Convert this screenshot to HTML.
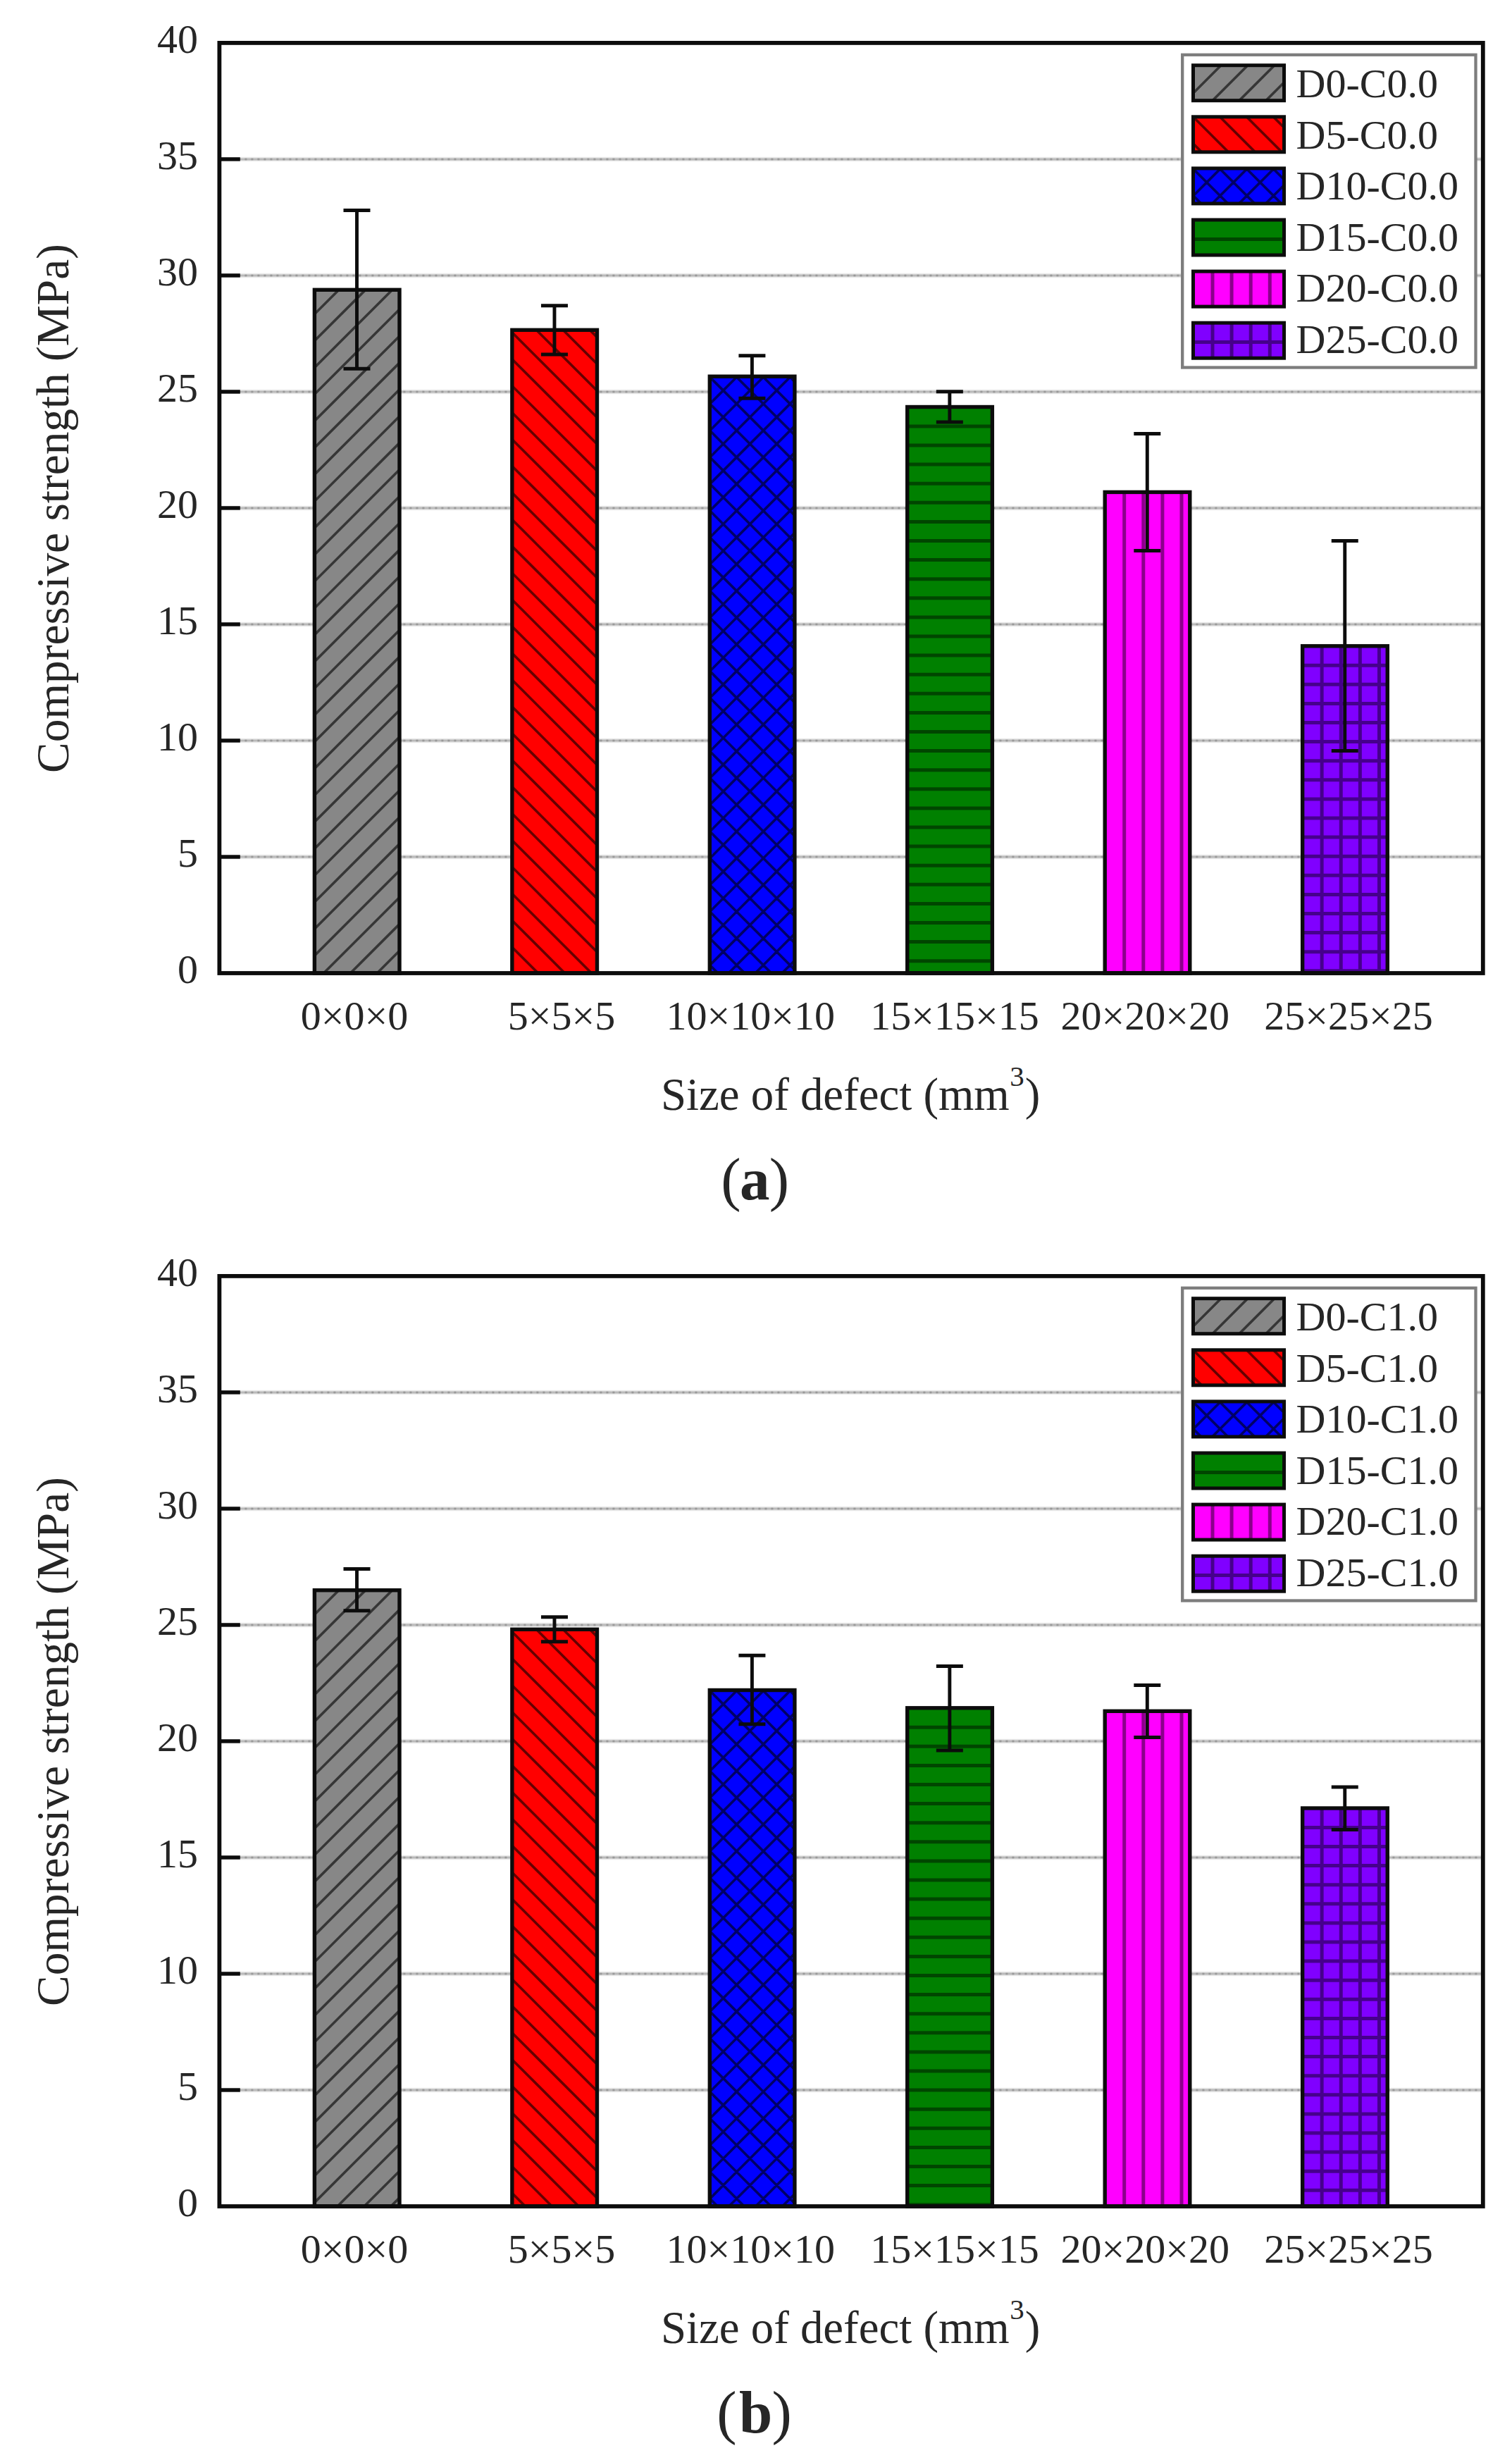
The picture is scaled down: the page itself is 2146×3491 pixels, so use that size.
<!DOCTYPE html>
<html lang="en">
<head>
<meta charset="utf-8">
<title>Compressive strength versus size of defect</title>
<style>
html,body{margin:0;padding:0;background:#fff;}
body{width:2146px;height:3491px;overflow:hidden;}
svg{display:block;}
svg text{font-family:"Liberation Serif",serif;fill:#262626;}
</style>
</head>
<body>
<svg width="2146" height="3491" viewBox="0 0 2146 3491">
<defs><clipPath id="c1"><rect x="446.4" y="411.3" width="120.6" height="969.7"/></clipPath><clipPath id="c2"><rect x="726.85" y="468.3" width="120.6" height="912.7"/></clipPath><clipPath id="c3"><rect x="1007.3" y="534.2" width="120.6" height="846.8"/></clipPath><clipPath id="c4"><rect x="1287.75" y="577.5" width="120.6" height="803.5"/></clipPath><clipPath id="c5"><rect x="1568.2" y="698.4" width="120.6" height="682.6"/></clipPath><clipPath id="c6"><rect x="1848.65" y="916.8" width="120.6" height="464.2"/></clipPath><clipPath id="c7"><rect x="1693.5" y="92.7" width="129" height="50"/></clipPath><clipPath id="c8"><rect x="1693.5" y="165.8" width="129" height="50"/></clipPath><clipPath id="c9"><rect x="1693.5" y="238.9" width="129" height="50"/></clipPath><clipPath id="c10"><rect x="1693.5" y="312" width="129" height="50"/></clipPath><clipPath id="c11"><rect x="1693.5" y="385.1" width="129" height="50"/></clipPath><clipPath id="c12"><rect x="1693.5" y="458.2" width="129" height="50"/></clipPath><clipPath id="c13"><rect x="446.4" y="506.7" width="120.6" height="874.3"/></clipPath><clipPath id="c14"><rect x="726.85" y="562.3" width="120.6" height="818.7"/></clipPath><clipPath id="c15"><rect x="1007.3" y="648.5" width="120.6" height="732.5"/></clipPath><clipPath id="c16"><rect x="1287.75" y="673.8" width="120.6" height="707.2"/></clipPath><clipPath id="c17"><rect x="1568.2" y="678.3" width="120.6" height="702.7"/></clipPath><clipPath id="c18"><rect x="1848.65" y="816" width="120.6" height="565"/></clipPath><clipPath id="c19"><rect x="1693.5" y="92.7" width="129" height="50"/></clipPath><clipPath id="c20"><rect x="1693.5" y="165.8" width="129" height="50"/></clipPath><clipPath id="c21"><rect x="1693.5" y="238.9" width="129" height="50"/></clipPath><clipPath id="c22"><rect x="1693.5" y="312" width="129" height="50"/></clipPath><clipPath id="c23"><rect x="1693.5" y="385.1" width="129" height="50"/></clipPath><clipPath id="c24"><rect x="1693.5" y="458.2" width="129" height="50"/></clipPath></defs>
<rect width="2146" height="3491" fill="#fff"/>
<g><path d="M311.4 1215.99H2104.8" stroke="#000" stroke-opacity="0.09" stroke-width="6.4" fill="none"/><path d="M311.4 1215.99H2104.8" stroke="#000" stroke-opacity="0.2" stroke-width="3" fill="none"/><path d="M311.4 1215.99H2104.8" stroke="#000" stroke-opacity="0.17" stroke-width="3" stroke-dasharray="3 6" fill="none"/><path d="M311.4 1050.97H2104.8" stroke="#000" stroke-opacity="0.09" stroke-width="6.4" fill="none"/><path d="M311.4 1050.97H2104.8" stroke="#000" stroke-opacity="0.2" stroke-width="3" fill="none"/><path d="M311.4 1050.97H2104.8" stroke="#000" stroke-opacity="0.17" stroke-width="3" stroke-dasharray="3 6" fill="none"/><path d="M311.4 885.96H2104.8" stroke="#000" stroke-opacity="0.09" stroke-width="6.4" fill="none"/><path d="M311.4 885.96H2104.8" stroke="#000" stroke-opacity="0.2" stroke-width="3" fill="none"/><path d="M311.4 885.96H2104.8" stroke="#000" stroke-opacity="0.17" stroke-width="3" stroke-dasharray="3 6" fill="none"/><path d="M311.4 720.95H2104.8" stroke="#000" stroke-opacity="0.09" stroke-width="6.4" fill="none"/><path d="M311.4 720.95H2104.8" stroke="#000" stroke-opacity="0.2" stroke-width="3" fill="none"/><path d="M311.4 720.95H2104.8" stroke="#000" stroke-opacity="0.17" stroke-width="3" stroke-dasharray="3 6" fill="none"/><path d="M311.4 555.94H2104.8" stroke="#000" stroke-opacity="0.09" stroke-width="6.4" fill="none"/><path d="M311.4 555.94H2104.8" stroke="#000" stroke-opacity="0.2" stroke-width="3" fill="none"/><path d="M311.4 555.94H2104.8" stroke="#000" stroke-opacity="0.17" stroke-width="3" stroke-dasharray="3 6" fill="none"/><path d="M311.4 390.93H2104.8" stroke="#000" stroke-opacity="0.09" stroke-width="6.4" fill="none"/><path d="M311.4 390.93H2104.8" stroke="#000" stroke-opacity="0.2" stroke-width="3" fill="none"/><path d="M311.4 390.93H2104.8" stroke="#000" stroke-opacity="0.17" stroke-width="3" stroke-dasharray="3 6" fill="none"/><path d="M311.4 225.91H2104.8" stroke="#000" stroke-opacity="0.09" stroke-width="6.4" fill="none"/><path d="M311.4 225.91H2104.8" stroke="#000" stroke-opacity="0.2" stroke-width="3" fill="none"/><path d="M311.4 225.91H2104.8" stroke="#000" stroke-opacity="0.17" stroke-width="3" stroke-dasharray="3 6" fill="none"/><rect x="446.4" y="411.3" width="120.6" height="969.7" fill="#878787"/><path clip-path="url(#c1)" d="M446.4 369.94L567 249.34M446.4 407.87L567 287.27M446.4 445.8L567 325.2M446.4 483.73L567 363.13M446.4 521.66L567 401.06M446.4 559.59L567 438.99M446.4 597.52L567 476.92M446.4 635.45L567 514.85M446.4 673.38L567 552.78M446.4 711.31L567 590.71M446.4 749.24L567 628.64M446.4 787.17L567 666.57M446.4 825.1L567 704.5M446.4 863.03L567 742.43M446.4 900.96L567 780.36M446.4 938.89L567 818.29M446.4 976.82L567 856.22M446.4 1014.75L567 894.15M446.4 1052.68L567 932.08M446.4 1090.61L567 970.01M446.4 1128.54L567 1007.94M446.4 1166.47L567 1045.87M446.4 1204.4L567 1083.8M446.4 1242.33L567 1121.73M446.4 1280.26L567 1159.66M446.4 1318.19L567 1197.59M446.4 1356.12L567 1235.52M446.4 1394.05L567 1273.45M446.4 1431.98L567 1311.38M446.4 1469.91L567 1349.31M446.4 1507.84L567 1387.24" stroke="#000" stroke-opacity="0.6" stroke-width="3.6" fill="none"/><rect x="446.4" y="411.3" width="120.6" height="969.7" fill="none" stroke="#0c0c0c" stroke-width="5.4"/><rect x="726.85" y="468.3" width="120.6" height="912.7" fill="#ff0000"/><path clip-path="url(#c2)" d="M726.85 282.15L847.45 402.75M726.85 320.08L847.45 440.68M726.85 358.01L847.45 478.61M726.85 395.94L847.45 516.54M726.85 433.87L847.45 554.47M726.85 471.8L847.45 592.4M726.85 509.73L847.45 630.33M726.85 547.66L847.45 668.26M726.85 585.59L847.45 706.19M726.85 623.52L847.45 744.12M726.85 661.45L847.45 782.05M726.85 699.38L847.45 819.98M726.85 737.31L847.45 857.91M726.85 775.24L847.45 895.84M726.85 813.17L847.45 933.77M726.85 851.1L847.45 971.7M726.85 889.03L847.45 1009.63M726.85 926.96L847.45 1047.56M726.85 964.89L847.45 1085.49M726.85 1002.82L847.45 1123.42M726.85 1040.75L847.45 1161.35M726.85 1078.68L847.45 1199.28M726.85 1116.61L847.45 1237.21M726.85 1154.54L847.45 1275.14M726.85 1192.47L847.45 1313.07M726.85 1230.4L847.45 1351M726.85 1268.33L847.45 1388.93M726.85 1306.26L847.45 1426.86M726.85 1344.19L847.45 1464.79M726.85 1382.12L847.45 1502.72" stroke="#000" stroke-opacity="0.6" stroke-width="3.6" fill="none"/><rect x="726.85" y="468.3" width="120.6" height="912.7" fill="none" stroke="#0c0c0c" stroke-width="5.4"/><rect x="1007.3" y="534.2" width="120.6" height="846.8" fill="#0000ff"/><path clip-path="url(#c3)" d="M1007.3 459.54L1127.9 338.94M1007.3 497.47L1127.9 376.87M1007.3 535.4L1127.9 414.8M1007.3 573.33L1127.9 452.73M1007.3 611.26L1127.9 490.66M1007.3 649.19L1127.9 528.59M1007.3 687.12L1127.9 566.52M1007.3 725.05L1127.9 604.45M1007.3 762.98L1127.9 642.38M1007.3 800.91L1127.9 680.31M1007.3 838.84L1127.9 718.24M1007.3 876.77L1127.9 756.17M1007.3 914.7L1127.9 794.1M1007.3 952.63L1127.9 832.03M1007.3 990.56L1127.9 869.96M1007.3 1028.49L1127.9 907.89M1007.3 1066.42L1127.9 945.82M1007.3 1104.35L1127.9 983.75M1007.3 1142.28L1127.9 1021.68M1007.3 1180.21L1127.9 1059.61M1007.3 1218.14L1127.9 1097.54M1007.3 1256.07L1127.9 1135.47M1007.3 1294L1127.9 1173.4M1007.3 1331.93L1127.9 1211.33M1007.3 1369.86L1127.9 1249.26M1007.3 1407.79L1127.9 1287.19M1007.3 1445.72L1127.9 1325.12M1007.3 1483.65L1127.9 1363.05M1007.3 1521.58L1127.9 1400.98M1007.3 345.25L1127.9 465.85M1007.3 383.18L1127.9 503.78M1007.3 421.11L1127.9 541.71M1007.3 459.04L1127.9 579.64M1007.3 496.97L1127.9 617.57M1007.3 534.9L1127.9 655.5M1007.3 572.83L1127.9 693.43M1007.3 610.76L1127.9 731.36M1007.3 648.69L1127.9 769.29M1007.3 686.62L1127.9 807.22M1007.3 724.55L1127.9 845.15M1007.3 762.48L1127.9 883.08M1007.3 800.41L1127.9 921.01M1007.3 838.34L1127.9 958.94M1007.3 876.27L1127.9 996.87M1007.3 914.2L1127.9 1034.8M1007.3 952.13L1127.9 1072.73M1007.3 990.06L1127.9 1110.66M1007.3 1027.99L1127.9 1148.59M1007.3 1065.92L1127.9 1186.52M1007.3 1103.85L1127.9 1224.45M1007.3 1141.78L1127.9 1262.38M1007.3 1179.71L1127.9 1300.31M1007.3 1217.64L1127.9 1338.24M1007.3 1255.57L1127.9 1376.17M1007.3 1293.5L1127.9 1414.1M1007.3 1331.43L1127.9 1452.03M1007.3 1369.36L1127.9 1489.96M1007.3 1407.29L1127.9 1527.89" stroke="#000" stroke-opacity="0.6" stroke-width="3.6" fill="none"/><rect x="1007.3" y="534.2" width="120.6" height="846.8" fill="none" stroke="#0c0c0c" stroke-width="5.4"/><rect x="1287.75" y="577.5" width="120.6" height="803.5" fill="#008000"/><path clip-path="url(#c4)" d="M1287.75 604.9H1408.35M1287.75 632H1408.35M1287.75 659.1H1408.35M1287.75 686.2H1408.35M1287.75 713.3H1408.35M1287.75 740.4H1408.35M1287.75 767.5H1408.35M1287.75 794.6H1408.35M1287.75 821.7H1408.35M1287.75 848.8H1408.35M1287.75 875.9H1408.35M1287.75 903H1408.35M1287.75 930.1H1408.35M1287.75 957.2H1408.35M1287.75 984.3H1408.35M1287.75 1011.4H1408.35M1287.75 1038.5H1408.35M1287.75 1065.6H1408.35M1287.75 1092.7H1408.35M1287.75 1119.8H1408.35M1287.75 1146.9H1408.35M1287.75 1174H1408.35M1287.75 1201.1H1408.35M1287.75 1228.2H1408.35M1287.75 1255.3H1408.35M1287.75 1282.4H1408.35M1287.75 1309.5H1408.35M1287.75 1336.6H1408.35M1287.75 1363.7H1408.35" stroke="#000" stroke-opacity="0.45" stroke-width="5.0" fill="none"/><rect x="1287.75" y="577.5" width="120.6" height="803.5" fill="none" stroke="#0c0c0c" stroke-width="5.4"/><rect x="1568.2" y="698.4" width="120.6" height="682.6" fill="#ff00ff"/><path clip-path="url(#c5)" d="M1595.7 698.4V1381M1622.8 698.4V1381M1649.9 698.4V1381M1677 698.4V1381" stroke="#000" stroke-opacity="0.45" stroke-width="5.0" fill="none"/><rect x="1568.2" y="698.4" width="120.6" height="682.6" fill="none" stroke="#0c0c0c" stroke-width="5.4"/><rect x="1848.65" y="916.8" width="120.6" height="464.2" fill="#8000ff"/><path clip-path="url(#c6)" d="M1848.65 944.2H1969.25M1848.65 971.3H1969.25M1848.65 998.4H1969.25M1848.65 1025.5H1969.25M1848.65 1052.6H1969.25M1848.65 1079.7H1969.25M1848.65 1106.8H1969.25M1848.65 1133.9H1969.25M1848.65 1161H1969.25M1848.65 1188.1H1969.25M1848.65 1215.2H1969.25M1848.65 1242.3H1969.25M1848.65 1269.4H1969.25M1848.65 1296.5H1969.25M1848.65 1323.6H1969.25M1848.65 1350.7H1969.25M1848.65 1377.8H1969.25M1876.15 916.8V1381M1903.25 916.8V1381M1930.35 916.8V1381M1957.45 916.8V1381" stroke="#000" stroke-opacity="0.45" stroke-width="5.0" fill="none"/><rect x="1848.65" y="916.8" width="120.6" height="464.2" fill="none" stroke="#0c0c0c" stroke-width="5.4"/><path d="M506.5 298.6V523.3" stroke="#0c0c0c" stroke-width="4.9" fill="none"/><path d="M487.5 298.6H525.5M487.5 523.3H525.5" stroke="#0c0c0c" stroke-width="5.0" fill="none"/><path d="M786.95 433.7V503.1" stroke="#0c0c0c" stroke-width="4.9" fill="none"/><path d="M767.95 433.7H805.95M767.95 503.1H805.95" stroke="#0c0c0c" stroke-width="5.0" fill="none"/><path d="M1067.4 504.7V565.3" stroke="#0c0c0c" stroke-width="4.9" fill="none"/><path d="M1048.4 504.7H1086.4M1048.4 565.3H1086.4" stroke="#0c0c0c" stroke-width="5.0" fill="none"/><path d="M1347.85 555.7V599" stroke="#0c0c0c" stroke-width="4.9" fill="none"/><path d="M1328.85 555.7H1366.85M1328.85 599H1366.85" stroke="#0c0c0c" stroke-width="5.0" fill="none"/><path d="M1628.3 615.4V781.4" stroke="#0c0c0c" stroke-width="4.9" fill="none"/><path d="M1609.3 615.4H1647.3M1609.3 781.4H1647.3" stroke="#0c0c0c" stroke-width="5.0" fill="none"/><path d="M1908.75 767.4V1065.5" stroke="#0c0c0c" stroke-width="4.9" fill="none"/><path d="M1889.75 767.4H1927.75M1889.75 1065.5H1927.75" stroke="#0c0c0c" stroke-width="5.0" fill="none"/><rect x="1678.2" y="77.8" width="416.3" height="443.7" fill="#fff" stroke="#7d7d7d" stroke-width="4.3"/><rect x="1693.5" y="92.7" width="129" height="50" fill="#878787"/><path clip-path="url(#c7)" d="M1693.5 18.44L1822.5 -110.56M1693.5 56.37L1822.5 -72.63M1693.5 94.3L1822.5 -34.7M1693.5 132.23L1822.5 3.23M1693.5 170.16L1822.5 41.16M1693.5 208.09L1822.5 79.09M1693.5 246.02L1822.5 117.02M1693.5 283.95L1822.5 154.95" stroke="#000" stroke-opacity="0.6" stroke-width="3.6" fill="none"/><rect x="1693.5" y="92.7" width="129" height="50" fill="none" stroke="#0c0c0c" stroke-width="5"/><text x="1839.5" y="138.2" font-size="58">D0-C0.0</text><rect x="1693.5" y="165.8" width="129" height="50" fill="#ff0000"/><path clip-path="url(#c8)" d="M1693.5 -23.85L1822.5 105.15M1693.5 14.08L1822.5 143.08M1693.5 52.01L1822.5 181.01M1693.5 89.94L1822.5 218.94M1693.5 127.87L1822.5 256.87M1693.5 165.8L1822.5 294.8M1693.5 203.73L1822.5 332.73M1693.5 241.66L1822.5 370.66" stroke="#000" stroke-opacity="0.6" stroke-width="3.6" fill="none"/><rect x="1693.5" y="165.8" width="129" height="50" fill="none" stroke="#0c0c0c" stroke-width="5"/><text x="1839.5" y="210.7" font-size="58">D5-C0.0</text><rect x="1693.5" y="238.9" width="129" height="50" fill="#0000ff"/><path clip-path="url(#c9)" d="M1693.5 164.24L1822.5 35.24M1693.5 202.17L1822.5 73.17M1693.5 240.1L1822.5 111.1M1693.5 278.03L1822.5 149.03M1693.5 315.96L1822.5 186.96M1693.5 353.89L1822.5 224.89M1693.5 391.82L1822.5 262.82M1693.5 429.75L1822.5 300.75M1693.5 49.95L1822.5 178.95M1693.5 87.88L1822.5 216.88M1693.5 125.81L1822.5 254.81M1693.5 163.74L1822.5 292.74M1693.5 201.67L1822.5 330.67M1693.5 239.6L1822.5 368.6M1693.5 277.53L1822.5 406.53M1693.5 315.46L1822.5 444.46" stroke="#000" stroke-opacity="0.6" stroke-width="3.6" fill="none"/><rect x="1693.5" y="238.9" width="129" height="50" fill="none" stroke="#0c0c0c" stroke-width="5"/><text x="1839.5" y="283.2" font-size="58">D10-C0.0</text><rect x="1693.5" y="312" width="129" height="50" fill="#008000"/><path clip-path="url(#c10)" d="M1693.5 339.4H1822.5" stroke="#000" stroke-opacity="0.45" stroke-width="5.0" fill="none"/><rect x="1693.5" y="312" width="129" height="50" fill="none" stroke="#0c0c0c" stroke-width="5"/><text x="1839.5" y="355.7" font-size="58">D15-C0.0</text><rect x="1693.5" y="385.1" width="129" height="50" fill="#ff00ff"/><path clip-path="url(#c11)" d="M1721 385.1V435.1M1748.1 385.1V435.1M1775.2 385.1V435.1M1802.3 385.1V435.1" stroke="#000" stroke-opacity="0.45" stroke-width="5.0" fill="none"/><rect x="1693.5" y="385.1" width="129" height="50" fill="none" stroke="#0c0c0c" stroke-width="5"/><text x="1839.5" y="428.2" font-size="58">D20-C0.0</text><rect x="1693.5" y="458.2" width="129" height="50" fill="#8000ff"/><path clip-path="url(#c12)" d="M1693.5 485.6H1822.5M1721 458.2V508.2M1748.1 458.2V508.2M1775.2 458.2V508.2M1802.3 458.2V508.2" stroke="#000" stroke-opacity="0.45" stroke-width="5.0" fill="none"/><rect x="1693.5" y="458.2" width="129" height="50" fill="none" stroke="#0c0c0c" stroke-width="5"/><text x="1839.5" y="500.7" font-size="58">D25-C0.0</text><line x1="311.4" y1="1215.99" x2="340.8" y2="1215.99" stroke="#0c0c0c" stroke-width="5.4"/><line x1="311.4" y1="1050.97" x2="340.8" y2="1050.97" stroke="#0c0c0c" stroke-width="5.4"/><line x1="311.4" y1="885.96" x2="340.8" y2="885.96" stroke="#0c0c0c" stroke-width="5.4"/><line x1="311.4" y1="720.95" x2="340.8" y2="720.95" stroke="#0c0c0c" stroke-width="5.4"/><line x1="311.4" y1="555.94" x2="340.8" y2="555.94" stroke="#0c0c0c" stroke-width="5.4"/><line x1="311.4" y1="390.93" x2="340.8" y2="390.93" stroke="#0c0c0c" stroke-width="5.4"/><line x1="311.4" y1="225.91" x2="340.8" y2="225.91" stroke="#0c0c0c" stroke-width="5.4"/><rect x="311.4" y="60.9" width="1793.4" height="1320.1" fill="none" stroke="#0c0c0c" stroke-width="5.8"/><text x="281" y="1394.6" font-size="58" text-anchor="end">0</text><text x="281" y="1229.59" font-size="58" text-anchor="end">5</text><text x="281" y="1064.57" font-size="58" text-anchor="end">10</text><text x="281" y="899.56" font-size="58" text-anchor="end">15</text><text x="281" y="734.55" font-size="58" text-anchor="end">20</text><text x="281" y="569.54" font-size="58" text-anchor="end">25</text><text x="281" y="404.53" font-size="58" text-anchor="end">30</text><text x="281" y="239.51" font-size="58" text-anchor="end">35</text><text x="281" y="74.5" font-size="58" text-anchor="end">40</text><text x="503" y="1461" font-size="58" text-anchor="middle">0×0×0</text><text x="797" y="1461" font-size="58" text-anchor="middle">5×5×5</text><text x="1065.3" y="1461" font-size="58" text-anchor="middle">10×10×10</text><text x="1355" y="1461" font-size="58" text-anchor="middle">15×15×15</text><text x="1625.2" y="1461" font-size="58" text-anchor="middle">20×20×20</text><text x="1914" y="1461" font-size="58" text-anchor="middle">25×25×25</text><text x="938" y="1574.5" font-size="64.8">Size of defect (mm<tspan font-size="41" dy="-33.5" dx="0.5">3</tspan><tspan dy="33.5" dx="1">)</tspan></text><text transform="translate(97 721.5) rotate(-90)" font-size="65.3" text-anchor="middle">Compressive strength (MPa)</text><text y="1702" font-size="85" text-anchor="middle" font-weight="bold"><tspan x="1037.5" font-weight="normal">(</tspan><tspan x="1071.2">a</tspan><tspan x="1106" font-weight="normal">)</tspan></text></g>
<g transform="translate(0 1750)"><path d="M311.4 1215.99H2104.8" stroke="#000" stroke-opacity="0.09" stroke-width="6.4" fill="none"/><path d="M311.4 1215.99H2104.8" stroke="#000" stroke-opacity="0.2" stroke-width="3" fill="none"/><path d="M311.4 1215.99H2104.8" stroke="#000" stroke-opacity="0.17" stroke-width="3" stroke-dasharray="3 6" fill="none"/><path d="M311.4 1050.97H2104.8" stroke="#000" stroke-opacity="0.09" stroke-width="6.4" fill="none"/><path d="M311.4 1050.97H2104.8" stroke="#000" stroke-opacity="0.2" stroke-width="3" fill="none"/><path d="M311.4 1050.97H2104.8" stroke="#000" stroke-opacity="0.17" stroke-width="3" stroke-dasharray="3 6" fill="none"/><path d="M311.4 885.96H2104.8" stroke="#000" stroke-opacity="0.09" stroke-width="6.4" fill="none"/><path d="M311.4 885.96H2104.8" stroke="#000" stroke-opacity="0.2" stroke-width="3" fill="none"/><path d="M311.4 885.96H2104.8" stroke="#000" stroke-opacity="0.17" stroke-width="3" stroke-dasharray="3 6" fill="none"/><path d="M311.4 720.95H2104.8" stroke="#000" stroke-opacity="0.09" stroke-width="6.4" fill="none"/><path d="M311.4 720.95H2104.8" stroke="#000" stroke-opacity="0.2" stroke-width="3" fill="none"/><path d="M311.4 720.95H2104.8" stroke="#000" stroke-opacity="0.17" stroke-width="3" stroke-dasharray="3 6" fill="none"/><path d="M311.4 555.94H2104.8" stroke="#000" stroke-opacity="0.09" stroke-width="6.4" fill="none"/><path d="M311.4 555.94H2104.8" stroke="#000" stroke-opacity="0.2" stroke-width="3" fill="none"/><path d="M311.4 555.94H2104.8" stroke="#000" stroke-opacity="0.17" stroke-width="3" stroke-dasharray="3 6" fill="none"/><path d="M311.4 390.93H2104.8" stroke="#000" stroke-opacity="0.09" stroke-width="6.4" fill="none"/><path d="M311.4 390.93H2104.8" stroke="#000" stroke-opacity="0.2" stroke-width="3" fill="none"/><path d="M311.4 390.93H2104.8" stroke="#000" stroke-opacity="0.17" stroke-width="3" stroke-dasharray="3 6" fill="none"/><path d="M311.4 225.91H2104.8" stroke="#000" stroke-opacity="0.09" stroke-width="6.4" fill="none"/><path d="M311.4 225.91H2104.8" stroke="#000" stroke-opacity="0.2" stroke-width="3" fill="none"/><path d="M311.4 225.91H2104.8" stroke="#000" stroke-opacity="0.17" stroke-width="3" stroke-dasharray="3 6" fill="none"/><rect x="446.4" y="506.7" width="120.6" height="874.3" fill="#878787"/><path clip-path="url(#c13)" d="M446.4 465.34L567 344.74M446.4 503.27L567 382.67M446.4 541.2L567 420.6M446.4 579.13L567 458.53M446.4 617.06L567 496.46M446.4 654.99L567 534.39M446.4 692.92L567 572.32M446.4 730.85L567 610.25M446.4 768.78L567 648.18M446.4 806.71L567 686.11M446.4 844.64L567 724.04M446.4 882.57L567 761.97M446.4 920.5L567 799.9M446.4 958.43L567 837.83M446.4 996.36L567 875.76M446.4 1034.29L567 913.69M446.4 1072.22L567 951.62M446.4 1110.15L567 989.55M446.4 1148.08L567 1027.48M446.4 1186.01L567 1065.41M446.4 1223.94L567 1103.34M446.4 1261.87L567 1141.27M446.4 1299.8L567 1179.2M446.4 1337.73L567 1217.13M446.4 1375.66L567 1255.06M446.4 1413.59L567 1292.99M446.4 1451.52L567 1330.92M446.4 1489.45L567 1368.85M446.4 1527.38L567 1406.78" stroke="#000" stroke-opacity="0.6" stroke-width="3.6" fill="none"/><rect x="446.4" y="506.7" width="120.6" height="874.3" fill="none" stroke="#0c0c0c" stroke-width="5.4"/><rect x="726.85" y="562.3" width="120.6" height="818.7" fill="#ff0000"/><path clip-path="url(#c14)" d="M726.85 376.15L847.45 496.75M726.85 414.08L847.45 534.68M726.85 452.01L847.45 572.61M726.85 489.94L847.45 610.54M726.85 527.87L847.45 648.47M726.85 565.8L847.45 686.4M726.85 603.73L847.45 724.33M726.85 641.66L847.45 762.26M726.85 679.59L847.45 800.19M726.85 717.52L847.45 838.12M726.85 755.45L847.45 876.05M726.85 793.38L847.45 913.98M726.85 831.31L847.45 951.91M726.85 869.24L847.45 989.84M726.85 907.17L847.45 1027.77M726.85 945.1L847.45 1065.7M726.85 983.03L847.45 1103.63M726.85 1020.96L847.45 1141.56M726.85 1058.89L847.45 1179.49M726.85 1096.82L847.45 1217.42M726.85 1134.75L847.45 1255.35M726.85 1172.68L847.45 1293.28M726.85 1210.61L847.45 1331.21M726.85 1248.54L847.45 1369.14M726.85 1286.47L847.45 1407.07M726.85 1324.4L847.45 1445M726.85 1362.33L847.45 1482.93M726.85 1400.26L847.45 1520.86" stroke="#000" stroke-opacity="0.6" stroke-width="3.6" fill="none"/><rect x="726.85" y="562.3" width="120.6" height="818.7" fill="none" stroke="#0c0c0c" stroke-width="5.4"/><rect x="1007.3" y="648.5" width="120.6" height="732.5" fill="#0000ff"/><path clip-path="url(#c15)" d="M1007.3 573.84L1127.9 453.24M1007.3 611.77L1127.9 491.17M1007.3 649.7L1127.9 529.1M1007.3 687.63L1127.9 567.03M1007.3 725.56L1127.9 604.96M1007.3 763.49L1127.9 642.89M1007.3 801.42L1127.9 680.82M1007.3 839.35L1127.9 718.75M1007.3 877.28L1127.9 756.68M1007.3 915.21L1127.9 794.61M1007.3 953.14L1127.9 832.54M1007.3 991.07L1127.9 870.47M1007.3 1029L1127.9 908.4M1007.3 1066.93L1127.9 946.33M1007.3 1104.86L1127.9 984.26M1007.3 1142.79L1127.9 1022.19M1007.3 1180.72L1127.9 1060.12M1007.3 1218.65L1127.9 1098.05M1007.3 1256.58L1127.9 1135.98M1007.3 1294.51L1127.9 1173.91M1007.3 1332.44L1127.9 1211.84M1007.3 1370.37L1127.9 1249.77M1007.3 1408.3L1127.9 1287.7M1007.3 1446.23L1127.9 1325.63M1007.3 1484.16L1127.9 1363.56M1007.3 1522.09L1127.9 1401.49M1007.3 459.55L1127.9 580.15M1007.3 497.48L1127.9 618.08M1007.3 535.41L1127.9 656.01M1007.3 573.34L1127.9 693.94M1007.3 611.27L1127.9 731.87M1007.3 649.2L1127.9 769.8M1007.3 687.13L1127.9 807.73M1007.3 725.06L1127.9 845.66M1007.3 762.99L1127.9 883.59M1007.3 800.92L1127.9 921.52M1007.3 838.85L1127.9 959.45M1007.3 876.78L1127.9 997.38M1007.3 914.71L1127.9 1035.31M1007.3 952.64L1127.9 1073.24M1007.3 990.57L1127.9 1111.17M1007.3 1028.5L1127.9 1149.1M1007.3 1066.43L1127.9 1187.03M1007.3 1104.36L1127.9 1224.96M1007.3 1142.29L1127.9 1262.89M1007.3 1180.22L1127.9 1300.82M1007.3 1218.15L1127.9 1338.75M1007.3 1256.08L1127.9 1376.68M1007.3 1294.01L1127.9 1414.61M1007.3 1331.94L1127.9 1452.54M1007.3 1369.87L1127.9 1490.47M1007.3 1407.8L1127.9 1528.4" stroke="#000" stroke-opacity="0.6" stroke-width="3.6" fill="none"/><rect x="1007.3" y="648.5" width="120.6" height="732.5" fill="none" stroke="#0c0c0c" stroke-width="5.4"/><rect x="1287.75" y="673.8" width="120.6" height="707.2" fill="#008000"/><path clip-path="url(#c16)" d="M1287.75 701.2H1408.35M1287.75 728.3H1408.35M1287.75 755.4H1408.35M1287.75 782.5H1408.35M1287.75 809.6H1408.35M1287.75 836.7H1408.35M1287.75 863.8H1408.35M1287.75 890.9H1408.35M1287.75 918H1408.35M1287.75 945.1H1408.35M1287.75 972.2H1408.35M1287.75 999.3H1408.35M1287.75 1026.4H1408.35M1287.75 1053.5H1408.35M1287.75 1080.6H1408.35M1287.75 1107.7H1408.35M1287.75 1134.8H1408.35M1287.75 1161.9H1408.35M1287.75 1189H1408.35M1287.75 1216.1H1408.35M1287.75 1243.2H1408.35M1287.75 1270.3H1408.35M1287.75 1297.4H1408.35M1287.75 1324.5H1408.35M1287.75 1351.6H1408.35M1287.75 1378.7H1408.35" stroke="#000" stroke-opacity="0.45" stroke-width="5.0" fill="none"/><rect x="1287.75" y="673.8" width="120.6" height="707.2" fill="none" stroke="#0c0c0c" stroke-width="5.4"/><rect x="1568.2" y="678.3" width="120.6" height="702.7" fill="#ff00ff"/><path clip-path="url(#c17)" d="M1595.7 678.3V1381M1622.8 678.3V1381M1649.9 678.3V1381M1677 678.3V1381" stroke="#000" stroke-opacity="0.45" stroke-width="5.0" fill="none"/><rect x="1568.2" y="678.3" width="120.6" height="702.7" fill="none" stroke="#0c0c0c" stroke-width="5.4"/><rect x="1848.65" y="816" width="120.6" height="565" fill="#8000ff"/><path clip-path="url(#c18)" d="M1848.65 843.4H1969.25M1848.65 870.5H1969.25M1848.65 897.6H1969.25M1848.65 924.7H1969.25M1848.65 951.8H1969.25M1848.65 978.9H1969.25M1848.65 1006H1969.25M1848.65 1033.1H1969.25M1848.65 1060.2H1969.25M1848.65 1087.3H1969.25M1848.65 1114.4H1969.25M1848.65 1141.5H1969.25M1848.65 1168.6H1969.25M1848.65 1195.7H1969.25M1848.65 1222.8H1969.25M1848.65 1249.9H1969.25M1848.65 1277H1969.25M1848.65 1304.1H1969.25M1848.65 1331.2H1969.25M1848.65 1358.3H1969.25M1876.15 816V1381M1903.25 816V1381M1930.35 816V1381M1957.45 816V1381" stroke="#000" stroke-opacity="0.45" stroke-width="5.0" fill="none"/><rect x="1848.65" y="816" width="120.6" height="565" fill="none" stroke="#0c0c0c" stroke-width="5.4"/><path d="M506.5 476.6V535.8" stroke="#0c0c0c" stroke-width="4.9" fill="none"/><path d="M487.5 476.6H525.5M487.5 535.8H525.5" stroke="#0c0c0c" stroke-width="5.0" fill="none"/><path d="M786.95 544.8V579.7" stroke="#0c0c0c" stroke-width="4.9" fill="none"/><path d="M767.95 544.8H805.95M767.95 579.7H805.95" stroke="#0c0c0c" stroke-width="5.0" fill="none"/><path d="M1067.4 599.3V696.8" stroke="#0c0c0c" stroke-width="4.9" fill="none"/><path d="M1048.4 599.3H1086.4M1048.4 696.8H1086.4" stroke="#0c0c0c" stroke-width="5.0" fill="none"/><path d="M1347.85 614.4V734.1" stroke="#0c0c0c" stroke-width="4.9" fill="none"/><path d="M1328.85 614.4H1366.85M1328.85 734.1H1366.85" stroke="#0c0c0c" stroke-width="5.0" fill="none"/><path d="M1628.3 641.4V715.4" stroke="#0c0c0c" stroke-width="4.9" fill="none"/><path d="M1609.3 641.4H1647.3M1609.3 715.4H1647.3" stroke="#0c0c0c" stroke-width="5.0" fill="none"/><path d="M1908.75 785.9V846.5" stroke="#0c0c0c" stroke-width="4.9" fill="none"/><path d="M1889.75 785.9H1927.75M1889.75 846.5H1927.75" stroke="#0c0c0c" stroke-width="5.0" fill="none"/><rect x="1678.2" y="77.8" width="416.3" height="443.7" fill="#fff" stroke="#7d7d7d" stroke-width="4.3"/><rect x="1693.5" y="92.7" width="129" height="50" fill="#878787"/><path clip-path="url(#c19)" d="M1693.5 18.44L1822.5 -110.56M1693.5 56.37L1822.5 -72.63M1693.5 94.3L1822.5 -34.7M1693.5 132.23L1822.5 3.23M1693.5 170.16L1822.5 41.16M1693.5 208.09L1822.5 79.09M1693.5 246.02L1822.5 117.02M1693.5 283.95L1822.5 154.95" stroke="#000" stroke-opacity="0.6" stroke-width="3.6" fill="none"/><rect x="1693.5" y="92.7" width="129" height="50" fill="none" stroke="#0c0c0c" stroke-width="5"/><text x="1839.5" y="138.2" font-size="58">D0-C1.0</text><rect x="1693.5" y="165.8" width="129" height="50" fill="#ff0000"/><path clip-path="url(#c20)" d="M1693.5 -23.85L1822.5 105.15M1693.5 14.08L1822.5 143.08M1693.5 52.01L1822.5 181.01M1693.5 89.94L1822.5 218.94M1693.5 127.87L1822.5 256.87M1693.5 165.8L1822.5 294.8M1693.5 203.73L1822.5 332.73M1693.5 241.66L1822.5 370.66" stroke="#000" stroke-opacity="0.6" stroke-width="3.6" fill="none"/><rect x="1693.5" y="165.8" width="129" height="50" fill="none" stroke="#0c0c0c" stroke-width="5"/><text x="1839.5" y="210.7" font-size="58">D5-C1.0</text><rect x="1693.5" y="238.9" width="129" height="50" fill="#0000ff"/><path clip-path="url(#c21)" d="M1693.5 164.24L1822.5 35.24M1693.5 202.17L1822.5 73.17M1693.5 240.1L1822.5 111.1M1693.5 278.03L1822.5 149.03M1693.5 315.96L1822.5 186.96M1693.5 353.89L1822.5 224.89M1693.5 391.82L1822.5 262.82M1693.5 429.75L1822.5 300.75M1693.5 49.95L1822.5 178.95M1693.5 87.88L1822.5 216.88M1693.5 125.81L1822.5 254.81M1693.5 163.74L1822.5 292.74M1693.5 201.67L1822.5 330.67M1693.5 239.6L1822.5 368.6M1693.5 277.53L1822.5 406.53M1693.5 315.46L1822.5 444.46" stroke="#000" stroke-opacity="0.6" stroke-width="3.6" fill="none"/><rect x="1693.5" y="238.9" width="129" height="50" fill="none" stroke="#0c0c0c" stroke-width="5"/><text x="1839.5" y="283.2" font-size="58">D10-C1.0</text><rect x="1693.5" y="312" width="129" height="50" fill="#008000"/><path clip-path="url(#c22)" d="M1693.5 339.4H1822.5" stroke="#000" stroke-opacity="0.45" stroke-width="5.0" fill="none"/><rect x="1693.5" y="312" width="129" height="50" fill="none" stroke="#0c0c0c" stroke-width="5"/><text x="1839.5" y="355.7" font-size="58">D15-C1.0</text><rect x="1693.5" y="385.1" width="129" height="50" fill="#ff00ff"/><path clip-path="url(#c23)" d="M1721 385.1V435.1M1748.1 385.1V435.1M1775.2 385.1V435.1M1802.3 385.1V435.1" stroke="#000" stroke-opacity="0.45" stroke-width="5.0" fill="none"/><rect x="1693.5" y="385.1" width="129" height="50" fill="none" stroke="#0c0c0c" stroke-width="5"/><text x="1839.5" y="428.2" font-size="58">D20-C1.0</text><rect x="1693.5" y="458.2" width="129" height="50" fill="#8000ff"/><path clip-path="url(#c24)" d="M1693.5 485.6H1822.5M1721 458.2V508.2M1748.1 458.2V508.2M1775.2 458.2V508.2M1802.3 458.2V508.2" stroke="#000" stroke-opacity="0.45" stroke-width="5.0" fill="none"/><rect x="1693.5" y="458.2" width="129" height="50" fill="none" stroke="#0c0c0c" stroke-width="5"/><text x="1839.5" y="500.7" font-size="58">D25-C1.0</text><line x1="311.4" y1="1215.99" x2="340.8" y2="1215.99" stroke="#0c0c0c" stroke-width="5.4"/><line x1="311.4" y1="1050.97" x2="340.8" y2="1050.97" stroke="#0c0c0c" stroke-width="5.4"/><line x1="311.4" y1="885.96" x2="340.8" y2="885.96" stroke="#0c0c0c" stroke-width="5.4"/><line x1="311.4" y1="720.95" x2="340.8" y2="720.95" stroke="#0c0c0c" stroke-width="5.4"/><line x1="311.4" y1="555.94" x2="340.8" y2="555.94" stroke="#0c0c0c" stroke-width="5.4"/><line x1="311.4" y1="390.93" x2="340.8" y2="390.93" stroke="#0c0c0c" stroke-width="5.4"/><line x1="311.4" y1="225.91" x2="340.8" y2="225.91" stroke="#0c0c0c" stroke-width="5.4"/><rect x="311.4" y="60.9" width="1793.4" height="1320.1" fill="none" stroke="#0c0c0c" stroke-width="5.8"/><text x="281" y="1394.6" font-size="58" text-anchor="end">0</text><text x="281" y="1229.59" font-size="58" text-anchor="end">5</text><text x="281" y="1064.57" font-size="58" text-anchor="end">10</text><text x="281" y="899.56" font-size="58" text-anchor="end">15</text><text x="281" y="734.55" font-size="58" text-anchor="end">20</text><text x="281" y="569.54" font-size="58" text-anchor="end">25</text><text x="281" y="404.53" font-size="58" text-anchor="end">30</text><text x="281" y="239.51" font-size="58" text-anchor="end">35</text><text x="281" y="74.5" font-size="58" text-anchor="end">40</text><text x="503" y="1461" font-size="58" text-anchor="middle">0×0×0</text><text x="797" y="1461" font-size="58" text-anchor="middle">5×5×5</text><text x="1065.3" y="1461" font-size="58" text-anchor="middle">10×10×10</text><text x="1355" y="1461" font-size="58" text-anchor="middle">15×15×15</text><text x="1625.2" y="1461" font-size="58" text-anchor="middle">20×20×20</text><text x="1914" y="1461" font-size="58" text-anchor="middle">25×25×25</text><text x="938" y="1574.5" font-size="64.8">Size of defect (mm<tspan font-size="41" dy="-33.5" dx="0.5">3</tspan><tspan dy="33.5" dx="1">)</tspan></text><text transform="translate(97 721.5) rotate(-90)" font-size="65.3" text-anchor="middle">Compressive strength (MPa)</text><text y="1702" font-size="85" text-anchor="middle" font-weight="bold"><tspan x="1031.5" font-weight="normal">(</tspan><tspan x="1072.6">b</tspan><tspan x="1109.7" font-weight="normal">)</tspan></text></g>
</svg>
</body>
</html>
